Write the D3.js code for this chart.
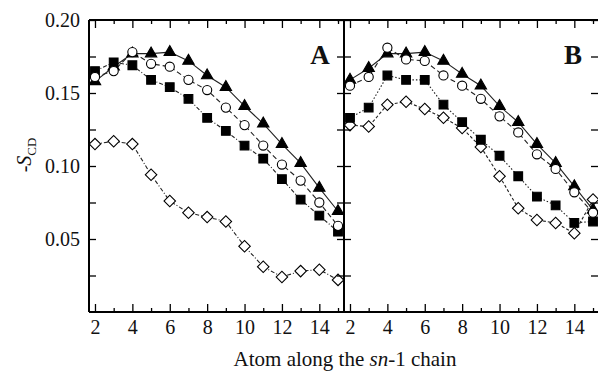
<!DOCTYPE html>
<html>
<head>
<meta charset="utf-8">
<script src="https://cdn.jsdelivr.net/npm/d3@7"></script>
<style>
  body { margin: 0; background: #fff; }
  svg text { font-family: 'Liberation Serif', 'Times New Roman', serif; fill: #111; }
</style>
</head>
<body>
<svg id="container" width="598" height="373"></svg>
<script>
// carbon positions along the chain
const atoms = [2, 3, 4, 5, 6, 7, 8, 9, 10, 11, 12, 13, 14, 15];

// panel A order parameters (-S_CD)
const aTriangle = [0.158, 0.168, 0.177, 0.177, 0.178, 0.172, 0.162, 0.154, 0.141, 0.129, 0.115, 0.102, 0.085, 0.069];
const aCircle   = [0.161, 0.165, 0.178, 0.170, 0.168, 0.159, 0.152, 0.140, 0.128, 0.114, 0.101, 0.090, 0.075, 0.059];
const aSquare   = [0.165, 0.171, 0.169, 0.159, 0.154, 0.146, 0.133, 0.124, 0.114, 0.105, 0.091, 0.077, 0.066, 0.055];
const aDiamond  = [0.115, 0.117, 0.115, 0.094, 0.076, 0.068, 0.065, 0.062, 0.045, 0.031, 0.024, 0.028, 0.029, 0.022];

// panel B
const bTriangle = [0.159, 0.167, 0.177, 0.177, 0.178, 0.172, 0.163, 0.155, 0.141, 0.130, 0.115, 0.102, 0.086, 0.070];
const bCircle   = [0.155, 0.161, 0.181, 0.173, 0.172, 0.162, 0.155, 0.146, 0.134, 0.123, 0.108, 0.098, 0.082, 0.068];
const bSquare   = [0.133, 0.140, 0.162, 0.159, 0.159, 0.142, 0.130, 0.118, 0.107, 0.093, 0.079, 0.073, 0.061, 0.062];
const bDiamond  = [0.128, 0.127, 0.142, 0.144, 0.139, 0.133, 0.126, 0.113, 0.093, 0.071, 0.063, 0.061, 0.054, 0.077];

const yTicks = [0.025, 0.05, 0.075, 0.10, 0.125, 0.15, 0.175, 0.20];
const yLabels = [0.05, 0.10, 0.15, 0.20];
const xTicks = [2, 3, 4, 5, 6, 7, 8, 9, 10, 11, 12, 13, 14, 15];
const xLabels = [2, 4, 6, 8, 10, 12, 14];

(function (d3) {
  'use strict';

  const svg = d3.select('#container');
  const TOP = 20, BOTTOM = 312;
  const A_LEFT = 89, MID = 344, B_RIGHT = 599;

  const y = d3.scaleLinear().domain([0, 0.20]).range([BOTTOM, TOP]);
  const xA = d3.scaleLinear().domain([1.68, 15.32]).range([A_LEFT, MID]);
  const xB = d3.scaleLinear().domain([1.68, 15.32]).range([MID, B_RIGHT]);

  const styles = {
    triangle: { type: d3.symbolTriangle, size: 56, fill: '#000', dash: null, rot: 0 },
    circle:   { type: d3.symbolCircle, size: 66, fill: '#fff', dash: '5,3', rot: 0 },
    square:   { type: d3.symbolSquare, size: 76, fill: '#000', dash: '4,2,1,2', rot: 0 },
    diamond:  { type: d3.symbolSquare, size: 66, fill: '#fff', dash: '4,2,1,2', rot: 45 },
  };

  const drawPanel = (x, series) => {
    const g = svg.append('g');
    series.forEach(s => {
      const st = styles[s.kind];
      const pts = atoms.map((a, i) => [a, s.values[i]]);
      g.append('path')
        .datum(pts)
        .attr('fill', 'none')
        .attr('stroke', '#222')
        .attr('stroke-width', 1.1)
        .attr('stroke-dasharray', s.dash || st.dash)
        .attr('d', d3.line().x(d => x(d[0])).y(d => y(d[1])));
    });
    series.forEach(s => {
      const st = styles[s.kind];
      const sym = d3.symbol().type(st.type).size(st.size);
      g.selectAll(null)
        .data(atoms.map((a, i) => [a, s.values[i]]))
        .enter()
        .append('path')
        .attr('d', sym)
        .attr('transform', d => `translate(${x(d[0])},${y(d[1])}) rotate(${st.rot})`)
        .attr('fill', st.fill)
        .attr('stroke', '#000')
        .attr('stroke-width', 1.1);
    });
  };

  drawPanel(xA, [
    { kind: 'diamond', values: aDiamond },
    { kind: 'square', values: aSquare },
    { kind: 'triangle', values: aTriangle },
    { kind: 'circle', values: aCircle },
  ]);
  drawPanel(xB, [
    { kind: 'diamond', values: bDiamond, dash: '3,2' },
    { kind: 'square', values: bSquare, dash: '1.5,2' },
    { kind: 'triangle', values: bTriangle },
    { kind: 'circle', values: bCircle },
  ]);

  // x axes, ticks pointing inward, long at even atoms
  const tickLen = d => (d % 2 === 0 ? 8 : 4);
  const xAxes = (x, showLabels) => {
    const bottom = svg.append('g')
      .attr('transform', `translate(0,${BOTTOM})`)
      .call(d3.axisBottom(x).tickValues(xTicks).tickSize(0).tickPadding(8)
        .tickFormat(d => (showLabels && xLabels.includes(d) ? d : '')));
    bottom.selectAll('.tick line').attr('y2', d => -tickLen(d));
    const top = svg.append('g')
      .attr('transform', `translate(0,${TOP})`)
      .call(d3.axisTop(x).tickValues(xTicks).tickSize(0).tickFormat(''));
    top.selectAll('.tick line').attr('y2', d => tickLen(d));
    [bottom, top].forEach(g => {
      g.select('.domain').remove();
      g.selectAll('.tick line').attr('stroke', '#000').attr('stroke-width', 1.3);
      g.selectAll('.tick text').attr('font-size', 20).attr('fill', '#111')
        .attr('font-family', "'Liberation Serif', serif");
    });
  };
  xAxes(xA, true);
  xAxes(xB, true);

  // y axes
  const left = svg.append('g')
    .attr('transform', `translate(${A_LEFT},0)`)
    .call(d3.axisLeft(y).tickValues(yTicks).tickSize(0).tickPadding(9)
      .tickFormat(d => (yLabels.some(v => Math.abs(v - d) < 1e-9) ? d3.format('.2f')(d) : '')));
  left.selectAll('.tick line').attr('x2', 7);
  left.selectAll('.tick text').attr('font-size', 20).attr('fill', '#111')
    .attr('font-family', "'Liberation Serif', serif");

  const mid = svg.append('g')
    .attr('transform', `translate(${MID},0)`)
    .call(d3.axisLeft(y).tickValues(yTicks).tickSize(0).tickFormat(''));
  mid.selectAll('.tick line').attr('x1', -7).attr('x2', 7);

  const right = svg.append('g')
    .attr('transform', `translate(${B_RIGHT},0)`)
    .call(d3.axisRight(y).tickValues(yTicks).tickSize(0).tickFormat(''));
  right.selectAll('.tick line').attr('x2', -8);

  [left, mid, right].forEach(g => {
    g.select('.domain').remove();
    g.selectAll('.tick line').attr('stroke', '#000').attr('stroke-width', 1.3);
  });

  // frame
  const frame = [
    [A_LEFT, TOP, B_RIGHT, TOP],
    [A_LEFT, BOTTOM, B_RIGHT, BOTTOM],
    [A_LEFT, TOP, A_LEFT, BOTTOM],
    [MID, TOP, MID, BOTTOM],
    [B_RIGHT, TOP, B_RIGHT, BOTTOM],
  ];
  svg.selectAll('line.frame')
    .data(frame)
    .enter()
    .append('line')
    .attr('class', 'frame')
    .attr('x1', d => d[0]).attr('y1', d => d[1])
    .attr('x2', d => d[2]).attr('y2', d => d[3])
    .attr('stroke', '#000')
    .attr('stroke-width', 2);

  // panel letters
  svg.append('text').attr('x', 320).attr('y', 64).attr('text-anchor', 'middle')
    .attr('font-size', 27).attr('font-weight', 'bold').text('A');
  svg.append('text').attr('x', 573).attr('y', 64).attr('text-anchor', 'middle')
    .attr('font-size', 27).attr('font-weight', 'bold').text('B');

  // axis titles
  const xt = svg.append('text').attr('x', 345).attr('y', 366).attr('text-anchor', 'middle')
    .attr('font-size', 21);
  xt.append('tspan').text('Atom along the ');
  xt.append('tspan').attr('font-style', 'italic').text('sn');
  xt.append('tspan').text('-1 chain');

  const yt = svg.append('text')
    .attr('transform', 'translate(31,155) rotate(-90)')
    .attr('text-anchor', 'middle')
    .attr('font-size', 20);
  yt.append('tspan').text('-');
  yt.append('tspan').attr('font-style', 'italic').text('S');
  yt.append('tspan').attr('font-size', 13).attr('dy', 5).text('CD');
}(d3));
</script>
</body>
</html>
